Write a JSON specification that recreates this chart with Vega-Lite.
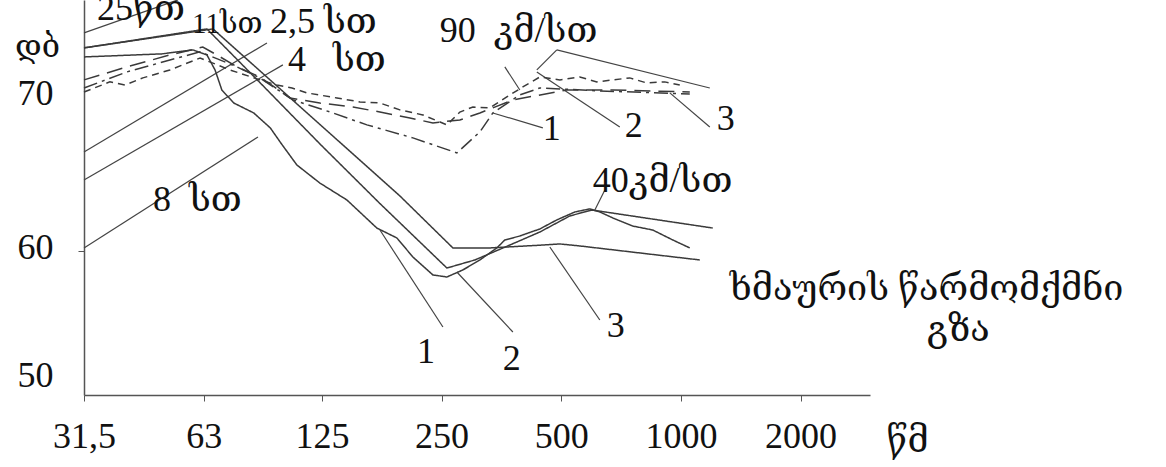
{
  "$schema": "https://vega.github.io/schema/vega-lite/v6.json",
  "width": 786,
  "height": 395,
  "autosize": {"type": "none"},
  "padding": {"left": 84, "top": 0, "right": 296, "bottom": 72},
  "background": "white",
  "config": {
    "view": {"stroke": null},
    "font": "Liberation Serif, DejaVu Serif, DejaVu Sans, serif"
  },
  "datasets": {
    "curves": [
      {"series": "40-3", "f": 31.5, "db": 73.27},
      {"series": "40-3", "f": 66.5, "db": 74.51},
      {"series": "40-3", "f": 133.2, "db": 67.51},
      {"series": "40-3", "f": 196.3, "db": 63.6},
      {"series": "40-3", "f": 266.9, "db": 60.2},
      {"series": "40-3", "f": 330.6, "db": 60.2},
      {"series": "40-3", "f": 449.4, "db": 60.39},
      {"series": "40-3", "f": 495.9, "db": 60.46},
      {"series": "40-3", "f": 556.7, "db": 60.33},
      {"series": "40-3", "f": 1115.4, "db": 59.3},

      {"series": "40-2", "f": 31.5, "db": 73.27},
      {"series": "40-2", "f": 64.2, "db": 74.51},
      {"series": "40-2", "f": 87.3, "db": 71.0},
      {"series": "40-2", "f": 123.5, "db": 67.0},
      {"series": "40-2", "f": 174.9, "db": 63.1},
      {"series": "40-2", "f": 257.8, "db": 58.67},
      {"series": "40-2", "f": 303.2, "db": 59.3},
      {"series": "40-2", "f": 371.2, "db": 60.39},
      {"series": "40-2", "f": 441.6, "db": 61.24},
      {"series": "40-2", "f": 525.4, "db": 62.29},
      {"series": "40-2", "f": 596.8, "db": 62.68},
      {"series": "40-2", "f": 1202.6, "db": 61.5},

      {"series": "40-1", "f": 31.5, "db": 72.68},
      {"series": "40-1", "f": 49.5, "db": 72.88},
      {"series": "40-1", "f": 59.2, "db": 73.14},
      {"series": "40-1", "f": 64.2, "db": 72.81},
      {"series": "40-1", "f": 67.3, "db": 71.83},
      {"series": "40-1", "f": 70.0, "db": 70.52},
      {"series": "40-1", "f": 75.0, "db": 69.67},
      {"series": "40-1", "f": 84.2, "db": 69.02},
      {"series": "40-1", "f": 92.7, "db": 68.04},
      {"series": "40-1", "f": 98.5, "db": 67.06},
      {"series": "40-1", "f": 108.1, "db": 65.62},
      {"series": "40-1", "f": 123.5, "db": 64.44},
      {"series": "40-1", "f": 144.5, "db": 63.33},
      {"series": "40-1", "f": 171.8, "db": 61.5},
      {"series": "40-1", "f": 193.0, "db": 60.85},
      {"series": "40-1", "f": 211.7, "db": 59.53},
      {"series": "40-1", "f": 237.7, "db": 58.13},
      {"series": "40-1", "f": 257.8, "db": 57.97},
      {"series": "40-1", "f": 282.8, "db": 58.52},
      {"series": "40-1", "f": 312.1, "db": 59.3},
      {"series": "40-1", "f": 344.3, "db": 60.2},
      {"series": "40-1", "f": 360.6, "db": 60.72},
      {"series": "40-1", "f": 393.3, "db": 60.98},
      {"series": "40-1", "f": 441.6, "db": 61.44},
      {"series": "40-1", "f": 487.3, "db": 62.03},
      {"series": "40-1", "f": 540.9, "db": 62.55},
      {"series": "40-1", "f": 589.9, "db": 62.75},
      {"series": "40-1", "f": 625.1, "db": 62.55},
      {"series": "40-1", "f": 674.0, "db": 62.16},
      {"series": "40-1", "f": 756.9, "db": 61.63},
      {"series": "40-1", "f": 849.6, "db": 61.37},
      {"series": "40-1", "f": 954.0, "db": 60.72},
      {"series": "40-1", "f": 1052.7, "db": 60.2},

      {"series": "90-1", "f": 31.5, "db": 70.65},
      {"series": "90-1", "f": 40.4, "db": 71.7},
      {"series": "90-1", "f": 51.8, "db": 72.48},
      {"series": "90-1", "f": 61.7, "db": 73.01},
      {"series": "90-1", "f": 76.4, "db": 72.03},
      {"series": "90-1", "f": 87.3, "db": 71.31},
      {"series": "90-1", "f": 105.7, "db": 69.87},
      {"series": "90-1", "f": 133.2, "db": 69.02},
      {"series": "90-1", "f": 162.2, "db": 68.24},
      {"series": "90-1", "f": 211.7, "db": 67.39},
      {"series": "90-1", "f": 273.1, "db": 66.41},
      {"series": "90-1", "f": 312.1, "db": 67.78},
      {"series": "90-1", "f": 336.4, "db": 69.02},
      {"series": "90-1", "f": 393.3, "db": 70.2},
      {"series": "90-1", "f": 441.6, "db": 70.65},
      {"series": "90-1", "f": 625.1, "db": 70.46},
      {"series": "90-1", "f": 1052.7, "db": 70.26},

      {"series": "90-2", "f": 31.5, "db": 70.39},
      {"series": "90-2", "f": 36.6, "db": 71.05},
      {"series": "90-2", "f": 39.94, "db": 70.85},
      {"series": "90-2", "f": 44.3, "db": 71.31},
      {"series": "90-2", "f": 51.8, "db": 71.83},
      {"series": "90-2", "f": 61.7, "db": 72.61},
      {"series": "90-2", "f": 73.4, "db": 71.83},
      {"series": "90-2", "f": 87.3, "db": 71.18},
      {"series": "90-2", "f": 96.3, "db": 70.85},
      {"series": "90-2", "f": 105.1, "db": 70.65},
      {"series": "90-2", "f": 114.6, "db": 70.33},
      {"series": "90-2", "f": 136.3, "db": 70.0},
      {"series": "90-2", "f": 155.8, "db": 69.74},
      {"series": "90-2", "f": 174.9, "db": 69.67},
      {"series": "90-2", "f": 196.3, "db": 69.22},
      {"series": "90-2", "f": 224.3, "db": 68.89},
      {"series": "90-2", "f": 257.8, "db": 68.24},
      {"series": "90-2", "f": 277.9, "db": 69.08},
      {"series": "90-2", "f": 299.7, "db": 69.41},
      {"series": "90-2", "f": 330.6, "db": 69.35},
      {"series": "90-2", "f": 364.8, "db": 70.07},
      {"series": "90-2", "f": 400.2, "db": 70.72},
      {"series": "90-2", "f": 441.6, "db": 71.37},
      {"series": "90-2", "f": 495.9, "db": 71.18},
      {"series": "90-2", "f": 556.7, "db": 71.37},
      {"series": "90-2", "f": 614.4, "db": 71.05},
      {"series": "90-2", "f": 674.0, "db": 71.18},
      {"series": "90-2", "f": 743.7, "db": 71.31},
      {"series": "90-2", "f": 820.7, "db": 70.98},
      {"series": "90-2", "f": 910.8, "db": 71.05},
      {"series": "90-2", "f": 993.4, "db": 70.85},

      {"series": "90-3", "f": 31.5, "db": 71.18},
      {"series": "90-3", "f": 40.4, "db": 72.03},
      {"series": "90-3", "f": 51.8, "db": 72.81},
      {"series": "90-3", "f": 62.7, "db": 73.33},
      {"series": "90-3", "f": 68.0, "db": 72.81},
      {"series": "90-3", "f": 76.4, "db": 72.03},
      {"series": "90-3", "f": 87.3, "db": 71.37},
      {"series": "90-3", "f": 103.8, "db": 70.0},
      {"series": "90-3", "f": 123.5, "db": 69.67},
      {"series": "90-3", "f": 149.6, "db": 69.41},
      {"series": "90-3", "f": 174.9, "db": 69.08},
      {"series": "90-3", "f": 208.1, "db": 68.69},
      {"series": "90-3", "f": 237.7, "db": 68.37},
      {"series": "90-3", "f": 277.9, "db": 68.56},
      {"series": "90-3", "f": 312.1, "db": 69.02},
      {"series": "90-3", "f": 377.8, "db": 69.87},
      {"series": "90-3", "f": 516.4, "db": 70.52},
      {"series": "90-3", "f": 674.0, "db": 70.52},
      {"series": "90-3", "f": 1052.7, "db": 70.39}
    ],
    "leaders": [
      {"f": 31.5, "db": 74.25, "f2": 54.29, "db2": 76.41},
      {"f": 31.5, "db": 66.47, "f2": 90.9, "db2": 73.59},
      {"f": 31.5, "db": 64.64, "f2": 99.7, "db2": 72.16},
      {"f": 31.5, "db": 60.2, "f2": 86.3, "db2": 67.45},
      {"f": 336.4, "db": 69.02, "f2": 449.4, "db2": 68.04},
      {"f": 434.0, "db": 71.7, "f2": 701.9, "db2": 68.1},
      {"f": 937.8, "db": 70.33, "f2": 1182, "db2": 68.1},
      {"f": 487.3, "db": 73.14, "f2": 434.0, "db2": 71.83},
      {"f": 487.3, "db": 73.14, "f2": 1182, "db2": 70.65},
      {"f": 360.6, "db": 72.03, "f2": 393.3, "db2": 70.52},
      {"f": 643.5, "db": 63.99, "f2": 607.3, "db2": 62.68},
      {"f": 174.9, "db": 61.37, "f2": 251.9, "db2": 54.06},
      {"f": 273.1, "db": 58.36, "f2": 377.8, "db2": 53.67},
      {"f": 468.0, "db": 60.26, "f2": 625.1, "db2": 54.61}
    ],
    "labels": [
      {"f": 33.96, "db": 75.1, "text": "25წთ"},
      {"f": 92.49, "db": 74.25, "text": "2,5 სთ"},
      {"f": 102.66, "db": 71.76, "text": "4\u00a0\u00a0\u00a0სთ"},
      {"f": 46.97, "db": 62.61, "text": "8\u00a0\u00a0სთ"},
      {"f": 247.5, "db": 73.66, "text": "90\u00a0\u00a0კმ/სთ"},
      {"f": 449.4, "db": 67.25, "text": "1"},
      {"f": 722.6, "db": 67.45, "text": "2"},
      {"f": 1231, "db": 67.91, "text": "3"},
      {"f": 600.3, "db": 63.86, "text": "40კმ/სთ"},
      {"f": 216.7, "db": 51.25, "text": "1"},
      {"f": 356.5, "db": 50.7, "text": "2"},
      {"f": 651.0, "db": 53.28, "text": "3"},
      {"f": 1327, "db": 56.17, "text": "ხმაურის წარმომქმნი"},
      {"f": 4152, "db": 52.95, "text": "გზა"}
    ],
    "smallLabels": [
      {"f": 58.87, "db": 74.25, "text": "11სთ"}
    ]
  },
  "encoding": {
    "x": {
      "field": "f",
      "type": "quantitative",
      "scale": {"type": "log", "base": 2, "domain": [31.5, 2990], "nice": false},
      "axis": {
        "values": [31.5, 63, 125, 250, 500, 1000, 2000],
        "labelExpr": "datum.value == 31.5 ? '31,5' : format(datum.value, 'd')",
        "grid": false,
        "domainColor": "#555555",
        "domainWidth": 1.5,
        "tickColor": "#555555",
        "tickSize": 6,
        "labelFontSize": 36,
        "labelColor": "#111111",
        "labelPadding": 18,
        "labelFlush": false,
        "labelOverlap": false,
        "title": "წმ",
        "titleFontSize": 36,
        "titleFontWeight": "normal",
        "titleColor": "#111111",
        "titleX": 823,
        "titleY": 56,
        "titleAlign": "center",
        "titleBaseline": "alphabetic"
      }
    },
    "y": {
      "field": "db",
      "type": "quantitative",
      "scale": {"domain": [48.75, 60, 76.4], "range": [395, 251, 0], "nice": false, "zero": false},
      "axis": {
        "values": [50, 60, 70],
        "grid": false,
        "domainColor": "#555555",
        "domainWidth": 1.5,
        "tickColor": "#555555",
        "tickSize": 6,
        "tickOpacity": {"condition": {"test": "datum.value == 60", "value": 1}, "value": 0},
        "labelFontSize": 36,
        "labelColor": "#111111",
        "labelPadding": 25,
        "labelOffset": -4,
        "title": "დბ",
        "titleFontSize": 32,
        "titleFontWeight": "normal",
        "titleColor": "#111111",
        "titleAngle": 0,
        "titleX": -47,
        "titleY": 46,
        "titleAlign": "center",
        "titleBaseline": "middle"
      }
    }
  },
  "layer": [
    {
      "data": {"name": "leaders"},
      "mark": {"type": "rule", "color": "#444444", "strokeWidth": 1.2},
      "encoding": {
        "x2": {"field": "f2"},
        "y2": {"field": "db2"}
      }
    },
    {
      "data": {"name": "curves"},
      "mark": {"type": "line", "color": "#3a3a3a", "strokeWidth": 1.5},
      "encoding": {
        "detail": {"field": "series"},
        "strokeDash": {
          "field": "series",
          "type": "nominal",
          "scale": {
            "domain": ["40-1", "40-2", "40-3", "90-1", "90-2", "90-3"],
            "range": [[1, 0], [1, 0], [1, 0], [14, 5, 3, 5], [7, 5], [16, 8]]
          },
          "legend": null
        }
      }
    },
    {
      "data": {"name": "labels"},
      "mark": {"type": "text", "align": "left", "baseline": "alphabetic", "fontSize": 36, "color": "#111111"},
      "encoding": {"text": {"field": "text"}}
    },
    {
      "data": {"name": "smallLabels"},
      "mark": {"type": "text", "align": "left", "baseline": "alphabetic", "fontSize": 29, "color": "#111111"},
      "encoding": {"text": {"field": "text"}}
    }
  ]
}
